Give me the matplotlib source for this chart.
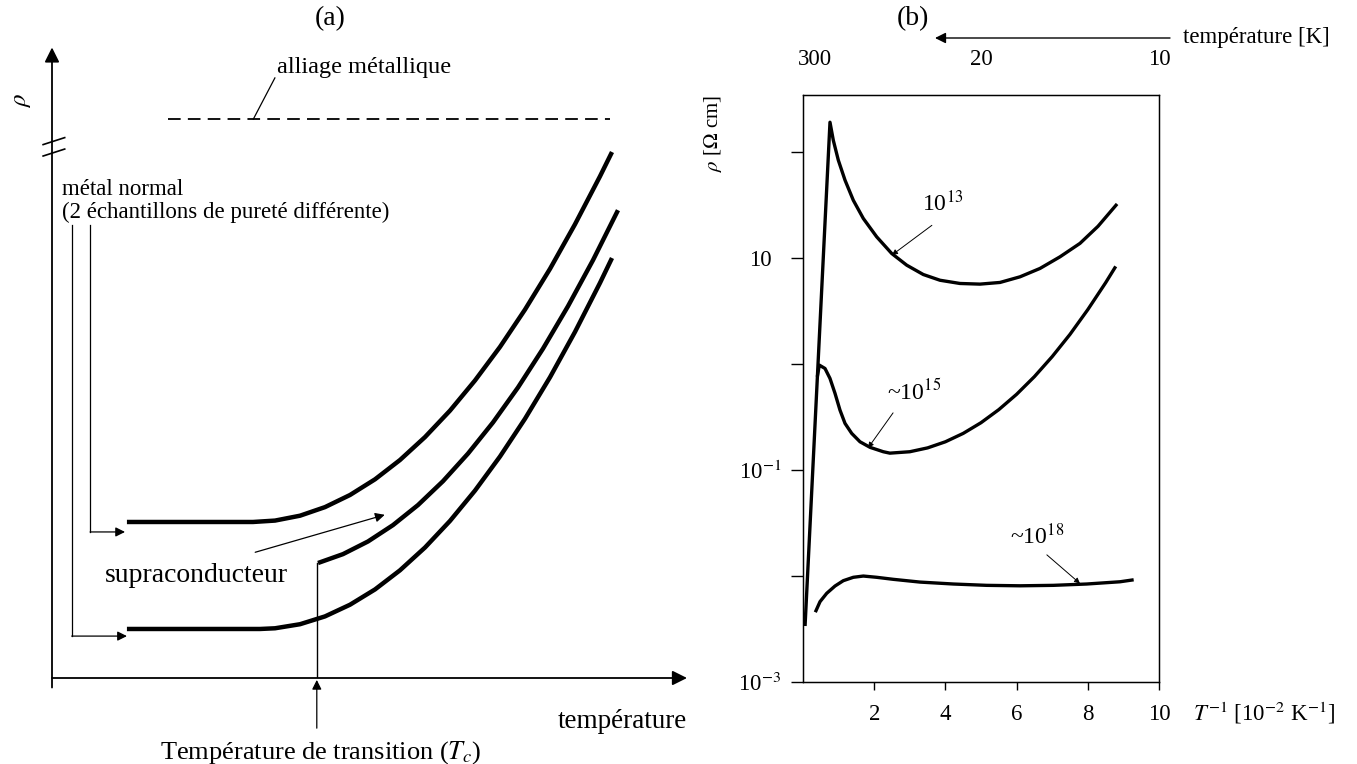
import matplotlib.pyplot as plt

plt.rcParams['font.family'] = ['Liberation Serif', 'DejaVu Serif']
plt.rcParams['mathtext.fontset'] = 'stix'

W, H = 1357, 764

# --- (a) schematic curves, arbitrary units (temperature, rho) ---
UPPER_T = [1.18, 3.165, 3.512, 3.906, 4.299, 4.693, 5.087, 5.480, 5.874, 6.268,
           6.661, 7.055, 7.449, 7.843, 8.236, 8.630, 8.819]
UPPER_RHO = [2.457, 2.457, 2.479, 2.556, 2.691, 2.882, 3.129, 3.433, 3.794, 4.211,
             4.685, 5.214, 5.802, 6.444, 7.145, 7.901, 8.283]
LOWER_T = [1.18, 3.276, 3.512, 3.906, 4.299, 4.693, 5.087, 5.480, 5.874, 6.268,
           6.661, 7.055, 7.449, 7.843, 8.236, 8.630, 8.819]
LOWER_RHO = [0.772, 0.772, 0.783, 0.847, 0.970, 1.154, 1.395, 1.696, 2.055, 2.474,
             2.951, 3.488, 4.083, 4.737, 5.450, 6.222, 6.614]
SUPRA_T = [4.189, 4.583, 4.976, 5.370, 5.764, 6.157, 6.551, 6.945, 7.339, 7.732,
           8.126, 8.520, 8.913]
SUPRA_RHO = [1.811, 1.951, 2.150, 2.408, 2.724, 3.099, 3.534, 4.025, 4.576, 5.186,
             5.855, 6.581, 7.367]
ALLIAGE_T = [1.83, 8.79]
ALLIAGE_RHO = [8.80, 8.80]
TC = 4.17

# --- (b) rho [ohm cm] vs 1/T [1e-2 1/K] for three dopings ---
INV_T_13 = [0.06, 0.758, 0.851, 0.992, 1.180, 1.413, 1.694, 2.070, 2.492, 2.913,
            3.379, 3.848, 4.410, 4.972, 5.534, 6.096, 6.657, 7.219, 7.781, 8.287,
            8.792]
RHO_13 = [3.5e-3, 191.9, 129.7, 84.1, 54.5, 35.2, 23.7, 15.9, 11.07, 8.59, 7.01,
          6.19, 5.77, 5.69, 5.90, 6.67, 8.0, 10.3, 13.8, 20.0, 31.6]
INV_T_15 = [0.41, 0.458, 0.618, 0.758, 0.899, 1.039, 1.180, 1.368, 1.601, 1.882,
            2.256, 2.44, 3.0, 3.5, 4.0, 4.5, 5.0, 5.5, 6.0, 6.5, 7.0, 7.5, 8.0,
            8.5, 8.76]
RHO_15 = [0.787, 0.979, 0.910, 0.733, 0.530, 0.368, 0.276, 0.222, 0.185, 0.164,
          0.149, 0.1445, 0.149, 0.162, 0.185, 0.222, 0.280, 0.372, 0.519, 0.762,
          1.178, 1.91, 3.27, 5.86, 8.11]
INV_T_18 = [0.365, 0.478, 0.666, 0.899, 1.132, 1.413, 1.694, 2.070, 2.537, 3.287,
            4.222, 5.160, 6.096, 7.031, 7.969, 8.904, 9.242]
RHO_18 = [0.00471, 0.00573, 0.00687, 0.00805, 0.00904, 0.00973, 0.0100, 0.00973,
          0.00931, 0.00877, 0.00841, 0.00817, 0.00809, 0.00817, 0.00841, 0.00883,
          0.00917]

X_TICKS = [2, 4, 6, 8, 10]
Y_TICKS = [1e-3, 1e-2, 1e-1, 1, 10, 100]
Y_LABELS = ['10$^{-3}$', '', '10$^{-1}$', '', '10', '']
TOP_TEMPS = [300, 20, 10]


def fig_xy(px, py):
    return px / W, 1 - py / H


fig = plt.figure(figsize=(W / 100, H / 100), dpi=100)

# ---------------- panel (a) ----------------
axL = fig.add_axes([52 / W, (H - 678) / H, 635 / W, 631 / H])
axL.set_xlim(0, 10)
axL.set_ylim(0, 631 / 63.5)
axL.axis('off')

arrow_kw = dict(arrowstyle='-|>', color='black', lw=1.3, mutation_scale=22,
                shrinkA=0, shrinkB=0)
axL.annotate('', xy=(0, 9.93), xytext=(0, -0.15), arrowprops=arrow_kw,
             annotation_clip=False)
axL.annotate('', xy=(10, 0), xytext=(0, 0), arrowprops=arrow_kw,
             annotation_clip=False)
# axis break marks
for y0 in (8.40, 8.22):
    axL.plot([-0.14, 0.20], [y0, y0 + 0.11], color='black', lw=1.2, clip_on=False)
axL.text(-0.47, 9.10, r'$\rho$', rotation=90, fontsize=18, ha='center',
         va='center')

curve_kw = dict(color='black', lw=3.2, solid_capstyle='butt',
                solid_joinstyle='round')
axL.plot(UPPER_T, UPPER_RHO, **curve_kw)
axL.plot(LOWER_T, LOWER_RHO, **curve_kw)
axL.plot(SUPRA_T, SUPRA_RHO, **curve_kw)
axL.plot([TC, TC], [0, SUPRA_RHO[0]], color='black', lw=1.0)
axL.plot(ALLIAGE_T, ALLIAGE_RHO, color='black', lw=1.3, dashes=(7, 4))

axL.text(3.54, 9.61, 'alliage métallique', fontsize=17.5, va='center')
axL.plot([3.51, 3.17], [9.45, 8.80], color='black', lw=0.9)

axL.text(0.16, 7.69, 'métal normal', fontsize=16.5, va='center')
axL.text(0.16, 7.34, '(2 échantillons de pureté différente)', fontsize=16.5,
         va='center')
thin_arrow = dict(arrowstyle='-|>', color='black', lw=0.9, mutation_scale=14,
                  shrinkA=0, shrinkB=0)
axL.plot([0.60, 0.60], [7.13, 2.30], color='black', lw=0.9)
axL.annotate('', xy=(1.15, 2.30), xytext=(0.60, 2.30), arrowprops=thin_arrow)
axL.plot([0.31, 0.31], [7.13, 0.66], color='black', lw=0.9)
axL.annotate('', xy=(1.18, 0.66), xytext=(0.31, 0.66), arrowprops=thin_arrow)

axL.text(0.83, 1.62, 'supraconducteur', fontsize=20, va='center')
axL.annotate('', xy=(5.24, 2.57), xytext=(3.20, 1.98), arrowprops=thin_arrow)

axL.annotate('', xy=(TC, -0.03), xytext=(TC, -0.79), arrowprops=thin_arrow,
             annotation_clip=False)
axL.text(1.70, -1.17, 'Température de transition ($T_c$)', fontsize=19,
         va='center', clip_on=False)
axL.text(10, -0.69, 'température', fontsize=19.5, ha='right', va='center')

fig.text(*fig_xy(330, 19), '(a)', fontsize=20, ha='center', va='center')

# ---------------- panel (b) ----------------
axR = fig.add_axes([803 / W, (H - 682) / H, 356 / W, 587 / H])
axR.set_yscale('log')
axR.set_xlim(0, 10)
axR.set_ylim(1e-3, 10 ** 2.54)
line_kw = dict(color='black', lw=2.4, solid_joinstyle='round')
axR.plot(INV_T_13, RHO_13, **line_kw)
axR.plot(INV_T_15, RHO_15, **line_kw)
axR.plot(INV_T_18, RHO_18, **line_kw)

axR.set_xticks(X_TICKS)
axR.set_xticklabels([str(v) for v in X_TICKS], fontsize=16.5)
axR.set_yticks(Y_TICKS)
axR.set_yticklabels(Y_LABELS, fontsize=16.5)
for lbl in axR.get_yticklabels():
    lbl.set_ha('center')
axR.minorticks_off()
axR.tick_params(axis='x', direction='out', length=6, width=1, pad=10)
axR.tick_params(axis='y', direction='out', length=9, width=1, pad=22)
for s in axR.spines.values():
    s.set_linewidth(1.0)

axT = axR.twiny()
axT.set_xlim(0, 10)
axT.set_xticks([100 / t for t in TOP_TEMPS])
axT.set_xticklabels([str(t) for t in TOP_TEMPS], fontsize=16.5)
axT.tick_params(axis='x', length=0, pad=18)

small_arrow = dict(arrowstyle='-|>', color='black', lw=0.7, mutation_scale=8,
                   shrinkA=0, shrinkB=0)
axR.annotate('', xy=(2.50, 10 ** 1.03), xytext=(3.62, 10 ** 1.31),
             arrowprops=small_arrow)
axR.text(3.35, 10 ** 1.40, '10$^{13}$', fontsize=17, ha='left', va='bottom')
axR.annotate('', xy=(1.83, 10 ** -0.79), xytext=(2.53, 10 ** -0.46),
             arrowprops=small_arrow)
axR.text(2.36, 10 ** -0.38, '~10$^{15}$', fontsize=17, ha='left', va='bottom')
axR.annotate('', xy=(7.78, 10 ** -2.07), xytext=(6.85, 10 ** -1.80),
             arrowprops=small_arrow)
axR.text(5.81, 10 ** -1.75, '~10$^{18}$', fontsize=17, ha='left', va='bottom')

fig.text(*fig_xy(713, 133), r'$\rho$ [$\Omega$ cm]', rotation=90, fontsize=15,
         ha='center', va='center')
fig.text(*fig_xy(1193, 713), '$T^{-1}$ [10$^{-2}$ K$^{-1}$]', fontsize=16.5,
         ha='left', va='center')

fig.text(*fig_xy(913, 19), '(b)', fontsize=20, ha='center', va='center')
axR.annotate('', xy=fig_xy(935, 38), xytext=fig_xy(1170, 38),
             xycoords='figure fraction', textcoords='figure fraction',
             arrowprops=dict(arrowstyle='-|>', color='black', lw=1.0,
                             mutation_scale=16, shrinkA=0, shrinkB=0))
fig.text(*fig_xy(1183, 38), 'température [K]', fontsize=16.5, ha='left',
         va='center')

fig.savefig('out.png', dpi=100)
